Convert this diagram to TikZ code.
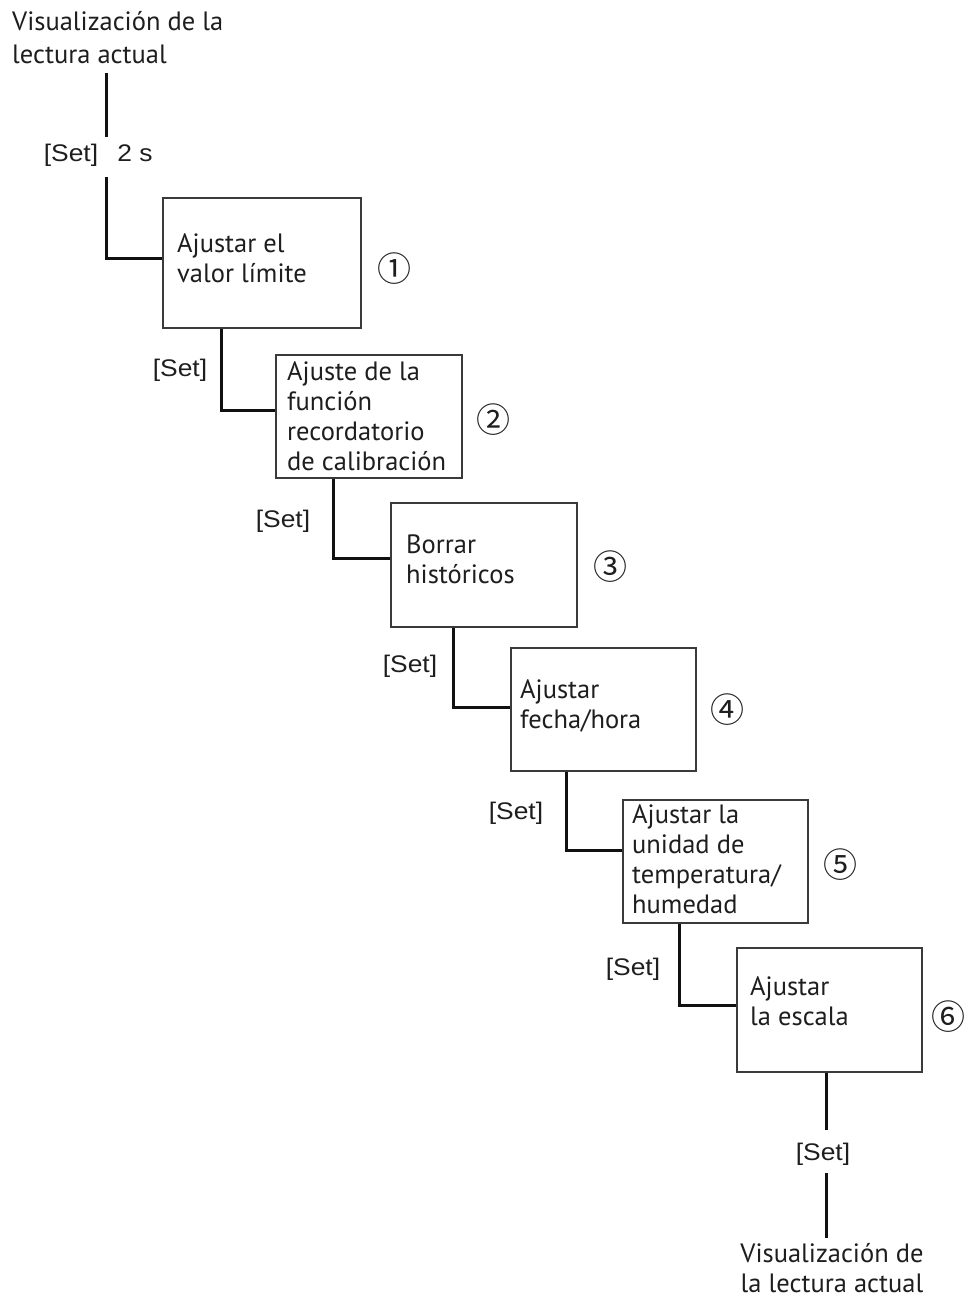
\documentclass[tikz,border=0pt]{standalone}
\usepackage{fontspec}
\newfontfamily\boxfont{PT Sans}
\newfontfamily\setfont[FakeStretch=1.1]{Liberation Sans}
\newfontfamily\numfont{Noto Sans CJK JP}
\definecolor{txtc}{HTML}{1E1E1E}
\definecolor{linec}{HTML}{111111}
\definecolor{boxgray}{HTML}{3A3A3A}
\begin{document}
\begin{tikzpicture}[x=1pt,y=-1pt,
  box/.style={draw=boxgray, line width=2.2pt, inner sep=0, anchor=north west, fill=white},
  btxt/.style={font=\boxfont\fontsize{26.5}{30}\selectfont, align=left, anchor=north west, inner sep=0, text=txtc},
  ctxt/.style={font=\boxfont\fontsize{26.5}{30}\selectfont, align=center, anchor=north, inner sep=0, text=txtc},
  setl/.style={font=\setfont\fontsize{24}{28}\selectfont, inner sep=0, anchor=base, text=txtc},
  num/.style={font=\numfont\fontsize{34}{34}\selectfont, inner sep=0, text=txtc},
  conn/.style={draw=linec, line width=3pt}]
\useasboundingbox[fill=white] (0,0) rectangle (969,1297);

% start text
\node[btxt, font=\boxfont\fontsize{26.5}{33}\selectfont] (top) at (12,6) {\rule{0pt}{24pt}Visualización de la\\lectura actual};

% boxes
\node[box, minimum width=198pt, minimum height=130pt] (b1) at (162,197) {};
\node[box, minimum width=186pt, minimum height=123pt] (b2) at (275,354) {};
\node[box, minimum width=186pt, minimum height=124pt] (b3) at (390,502) {};
\node[box, minimum width=185pt, minimum height=123pt] (b4) at (510,647) {};
\node[box, minimum width=185pt, minimum height=123pt] (b5) at (622,799) {};
\node[box, minimum width=185pt, minimum height=124pt] (b6) at (736,947) {};

% box texts
\node[btxt] (t1) at (177,228) {\rule{0pt}{24pt}Ajustar el\\valor límite};
\node[btxt] (t2) at (287,356) {\rule{0pt}{24pt}Ajuste de la\\función\\recordatorio\\de calibración};
\node[btxt] (t3) at (406,529) {\rule{0pt}{24pt}Borrar\\históricos};
\node[btxt] (t4) at (520,674) {\rule{0pt}{24pt}Ajustar\\fecha/hora};
\node[btxt] (t5) at (632,799) {\rule{0pt}{24pt}Ajustar la\\unidad de\\temperatura/\\humedad};
\node[btxt] (t6) at (750,971) {\rule{0pt}{24pt}Ajustar\\la escala};

% numbers
\node[num] (n1) at (394,269) {①};
\node[num] (n2) at (493,420) {②};
\node[num] (n3) at (610,567) {③};
\node[num] (n4) at (727,710) {④};
\node[num] (n5) at (840,865) {⑤};
\node[num] (n6) at (948,1017) {⑥};

% set labels
\node[setl] (s0) at (71,162) {[Set]};
\node[setl] (s0b) at (135,162) {2 s};
\node[setl] (s1) at (180,376) {[Set]};
\node[setl] (s2) at (283,527) {[Set]};
\node[setl] (s3) at (410,672) {[Set]};
\node[setl] (s4) at (516,819) {[Set]};
\node[setl] (s5) at (633,975) {[Set]};
\node[setl] (s6) at (823,1160) {[Set]};

% end text
\node[ctxt] (bot) at (832,1238) {\rule{0pt}{24pt}Visualización de\\la lectura actual};

% connectors
\coordinate (c0a) at (106,73);
\coordinate (c0b) at (106,137);
\coordinate (c0c) at (106,177);
\draw[conn] (c0a) -- (c0b);
\draw[conn] (c0c) |- (b1.west |- 0,258);
\draw[conn] (221,0 |- b1.south) |- (b2.west |- 0,410);
\draw[conn] (333,0 |- b2.south) |- (b3.west |- 0,558);
\draw[conn] (453,0 |- b3.south) |- (b4.west |- 0,707);
\draw[conn] (566,0 |- b4.south) |- (b5.west |- 0,850);
\draw[conn] (679,0 |- b5.south) |- (b6.west |- 0,1005);
\coordinate (c6a) at (826,1130);
\coordinate (c6b) at (826,1173);
\coordinate (c6c) at (826,1238);
\draw[conn] (b6.south -| c6a) -- (c6a);
\draw[conn] (c6b) -- (c6c);
\end{tikzpicture}
\end{document}
